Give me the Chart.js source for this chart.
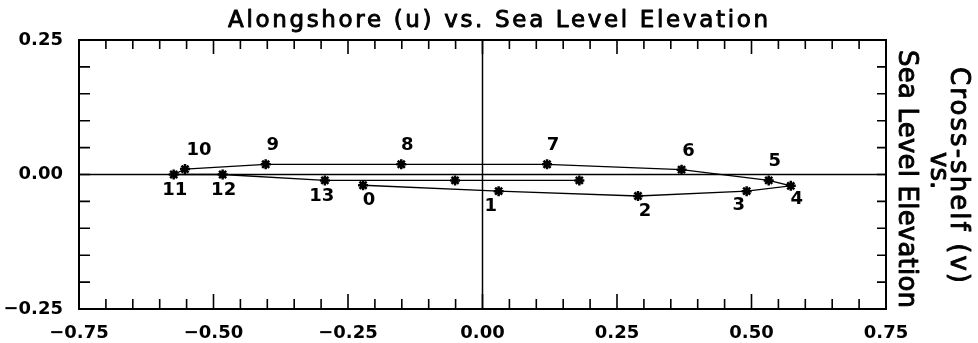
<!DOCTYPE html>
<html>
<head>
<meta charset="utf-8">
<script src="https://cdn.jsdelivr.net/npm/chart.js@4/dist/chart.umd.min.js"></script>
<style>
html,body{margin:0;padding:0;background:#fff;}
#wrap{width:978px;height:343px;}
</style>
</head>
<body>
<div id="wrap"><canvas id="c" width="978" height="343"></canvas></div>
<script>
// ---- data ----
const pointNames = ['0','1','2','3','4','5','6','7','8','9','10','11','12','13','',''];
const uValues = [-0.222, 0.030, 0.289, 0.491, 0.573, 0.532, 0.370, 0.120, -0.151, -0.403, -0.553, -0.574, -0.483, -0.293, -0.051, 0.180];
const vValues = [-0.020, -0.031, -0.040, -0.031, -0.021, -0.011, 0.009, 0.019, 0.019, 0.019, 0.010, 0.000, 0.000, -0.011, -0.011, -0.011];
const xTickValues = [-0.75, -0.50, -0.25, 0.00, 0.25, 0.50, 0.75];
const xTickLabels = ['\u22120.75', '\u22120.50', '\u22120.25', '0.00', '0.25', '0.50', '0.75'];
const yTickValues = [-0.25, 0.00, 0.25];
const yTickLabels = ['\u22120.25', '0.00', '0.25'];
const titleText = 'Alongshore (u) vs. Sea Level Elevation';
const rightTitleLines = ['Sea Level Elevation', 'vs.', 'Cross-shelf (v)'];

// ---- styling / placement (not data) ----
const labelOffsets = [[6,15],[-8,15],[7,15],[-8,14],[6,14],[6,-19],[7,-18],[6,-19],[6,-19],[7,-19],[14,-19],[1,16],[1,16],[-3,16],[0,0],[0,0]];
const FONT = '"DejaVu Sans", sans-serif';

const points = uValues.map((u, i) => ({x: u, y: vValues[i]}));

function drawSpaced(ctx, text, x, y, rot, size, weight, targetLen, strokeW) {
  ctx.save();
  ctx.font = weight + ' ' + size + 'px ' + FONT;
  ctx.letterSpacing = '0px';
  const w0 = ctx.measureText(text).width;
  let ls = 0;
  if (targetLen && text.length > 1) ls = (targetLen - w0) / (text.length - 1);
  ctx.letterSpacing = ls + 'px';
  ctx.translate(x, y);
  ctx.rotate(rot);
  ctx.fillStyle = '#000';
  ctx.strokeStyle = '#000';
  ctx.lineWidth = strokeW || 0;
  ctx.lineJoin = 'round';
  ctx.textAlign = 'left';
  ctx.textBaseline = 'alphabetic';
  ctx.fillText(text, 0, 0);
  if (strokeW) ctx.strokeText(text, 0, 0);
  ctx.restore();
}

const decoPlugin = {
  id: 'deco',
  beforeDatasetsDraw(chart) {
    const {ctx, chartArea: a, scales: {x, y}} = chart;
    ctx.save();
    ctx.strokeStyle = '#000';
    ctx.lineWidth = 2;
    ctx.strokeRect(a.left, a.top, a.right - a.left, a.bottom - a.top);
    ctx.lineWidth = 1.5;
    const x0 = x.getPixelForValue(0), y0 = y.getPixelForValue(0);
    ctx.beginPath();
    ctx.moveTo(a.left, y0); ctx.lineTo(a.right, y0);
    ctx.moveTo(x0, a.top); ctx.lineTo(x0, a.bottom);
    ctx.stroke();
    ctx.lineWidth = 1.6;
    ctx.beginPath();
    for (let i = -15; i <= 15; i++) {
      const px = x.getPixelForValue(i * 0.05);
      const len = (i % 5 === 0) ? 15 : 10;
      ctx.moveTo(px, a.top); ctx.lineTo(px, a.top + len - 1);
      ctx.moveTo(px, a.bottom); ctx.lineTo(px, a.bottom - len);
    }
    for (let j = -5; j <= 5; j++) {
      const py = y.getPixelForValue(j * 0.05);
      ctx.moveTo(a.left, py); ctx.lineTo(a.left + 11, py);
      ctx.moveTo(a.right, py); ctx.lineTo(a.right - 9, py);
    }
    ctx.stroke();
    ctx.restore();
  },
  afterDraw(chart) {
    const {ctx} = chart;
    const meta = chart.getDatasetMeta(0);
    ctx.save();
    ctx.font = 'bold 18px ' + FONT;
    ctx.fillStyle = '#000';
    ctx.textAlign = 'center';
    ctx.textBaseline = 'middle';
    meta.data.forEach((el, i) => {
      const name = pointNames[i];
      if (!name) return;
      const off = labelOffsets[i];
      ctx.fillText(name, el.x + off[0], el.y + off[1]);
    });
    ctx.restore();
    drawSpaced(ctx, titleText, 228, 27, 0, 23, 'normal', 540, 0.9);
    drawSpaced(ctx, rightTitleLines[0], 899, 50, Math.PI / 2, 26, 'normal', 258, 0.9);
    drawSpaced(ctx, rightTitleLines[1], 931, 152, Math.PI / 2, 26, 'normal', 0, 0.9);
    drawSpaced(ctx, rightTitleLines[2], 951, 67, Math.PI / 2, 26, 'normal', 216, 0.9);
  }
};

new Chart(document.getElementById('c'), {
  type: 'scatter',
  data: {
    datasets: [{
      data: points,
      showLine: true,
      borderColor: '#000',
      backgroundColor: '#000',
      borderWidth: 1.3,
      pointStyle: 'star',
      pointRadius: 5,
      pointBorderWidth: 2.5,
      pointBorderColor: '#000',
      pointBackgroundColor: '#000',
      tension: 0
    }]
  },
  options: {
    responsive: false,
    devicePixelRatio: 1,
    animation: false,
    layout: {padding: {top: 40, right: 92, left: 0, bottom: 0}},
    plugins: {legend: {display: false}, tooltip: {enabled: false}, title: {display: false}},
    scales: {
      x: {
        type: 'linear', position: 'bottom', min: -0.75, max: 0.75,
        afterBuildTicks: s => { s.ticks = xTickValues.map(v => ({value: v})); },
        afterFit: s => { s.height = 34; },
        grid: {display: false, drawTicks: false},
        border: {display: false},
        ticks: {
          autoSkip: false, maxRotation: 0, padding: 14, color: '#000',
          font: {family: FONT, size: 18, weight: 'bold'},
          callback: (v, i) => xTickLabels[i]
        }
      },
      y: {
        type: 'linear', position: 'left', min: -0.25, max: 0.25,
        afterBuildTicks: s => { s.ticks = yTickValues.map(v => ({value: v})); },
        afterFit: s => { s.width = 79; },
        grid: {display: false, drawTicks: false},
        border: {display: false},
        ticks: {
          autoSkip: false, padding: 16, color: '#000',
          font: {family: FONT, size: 18, weight: 'bold'},
          callback: (v, i) => yTickLabels[i]
        }
      }
    }
  },
  plugins: [decoPlugin]
});
</script>
</body>
</html>
